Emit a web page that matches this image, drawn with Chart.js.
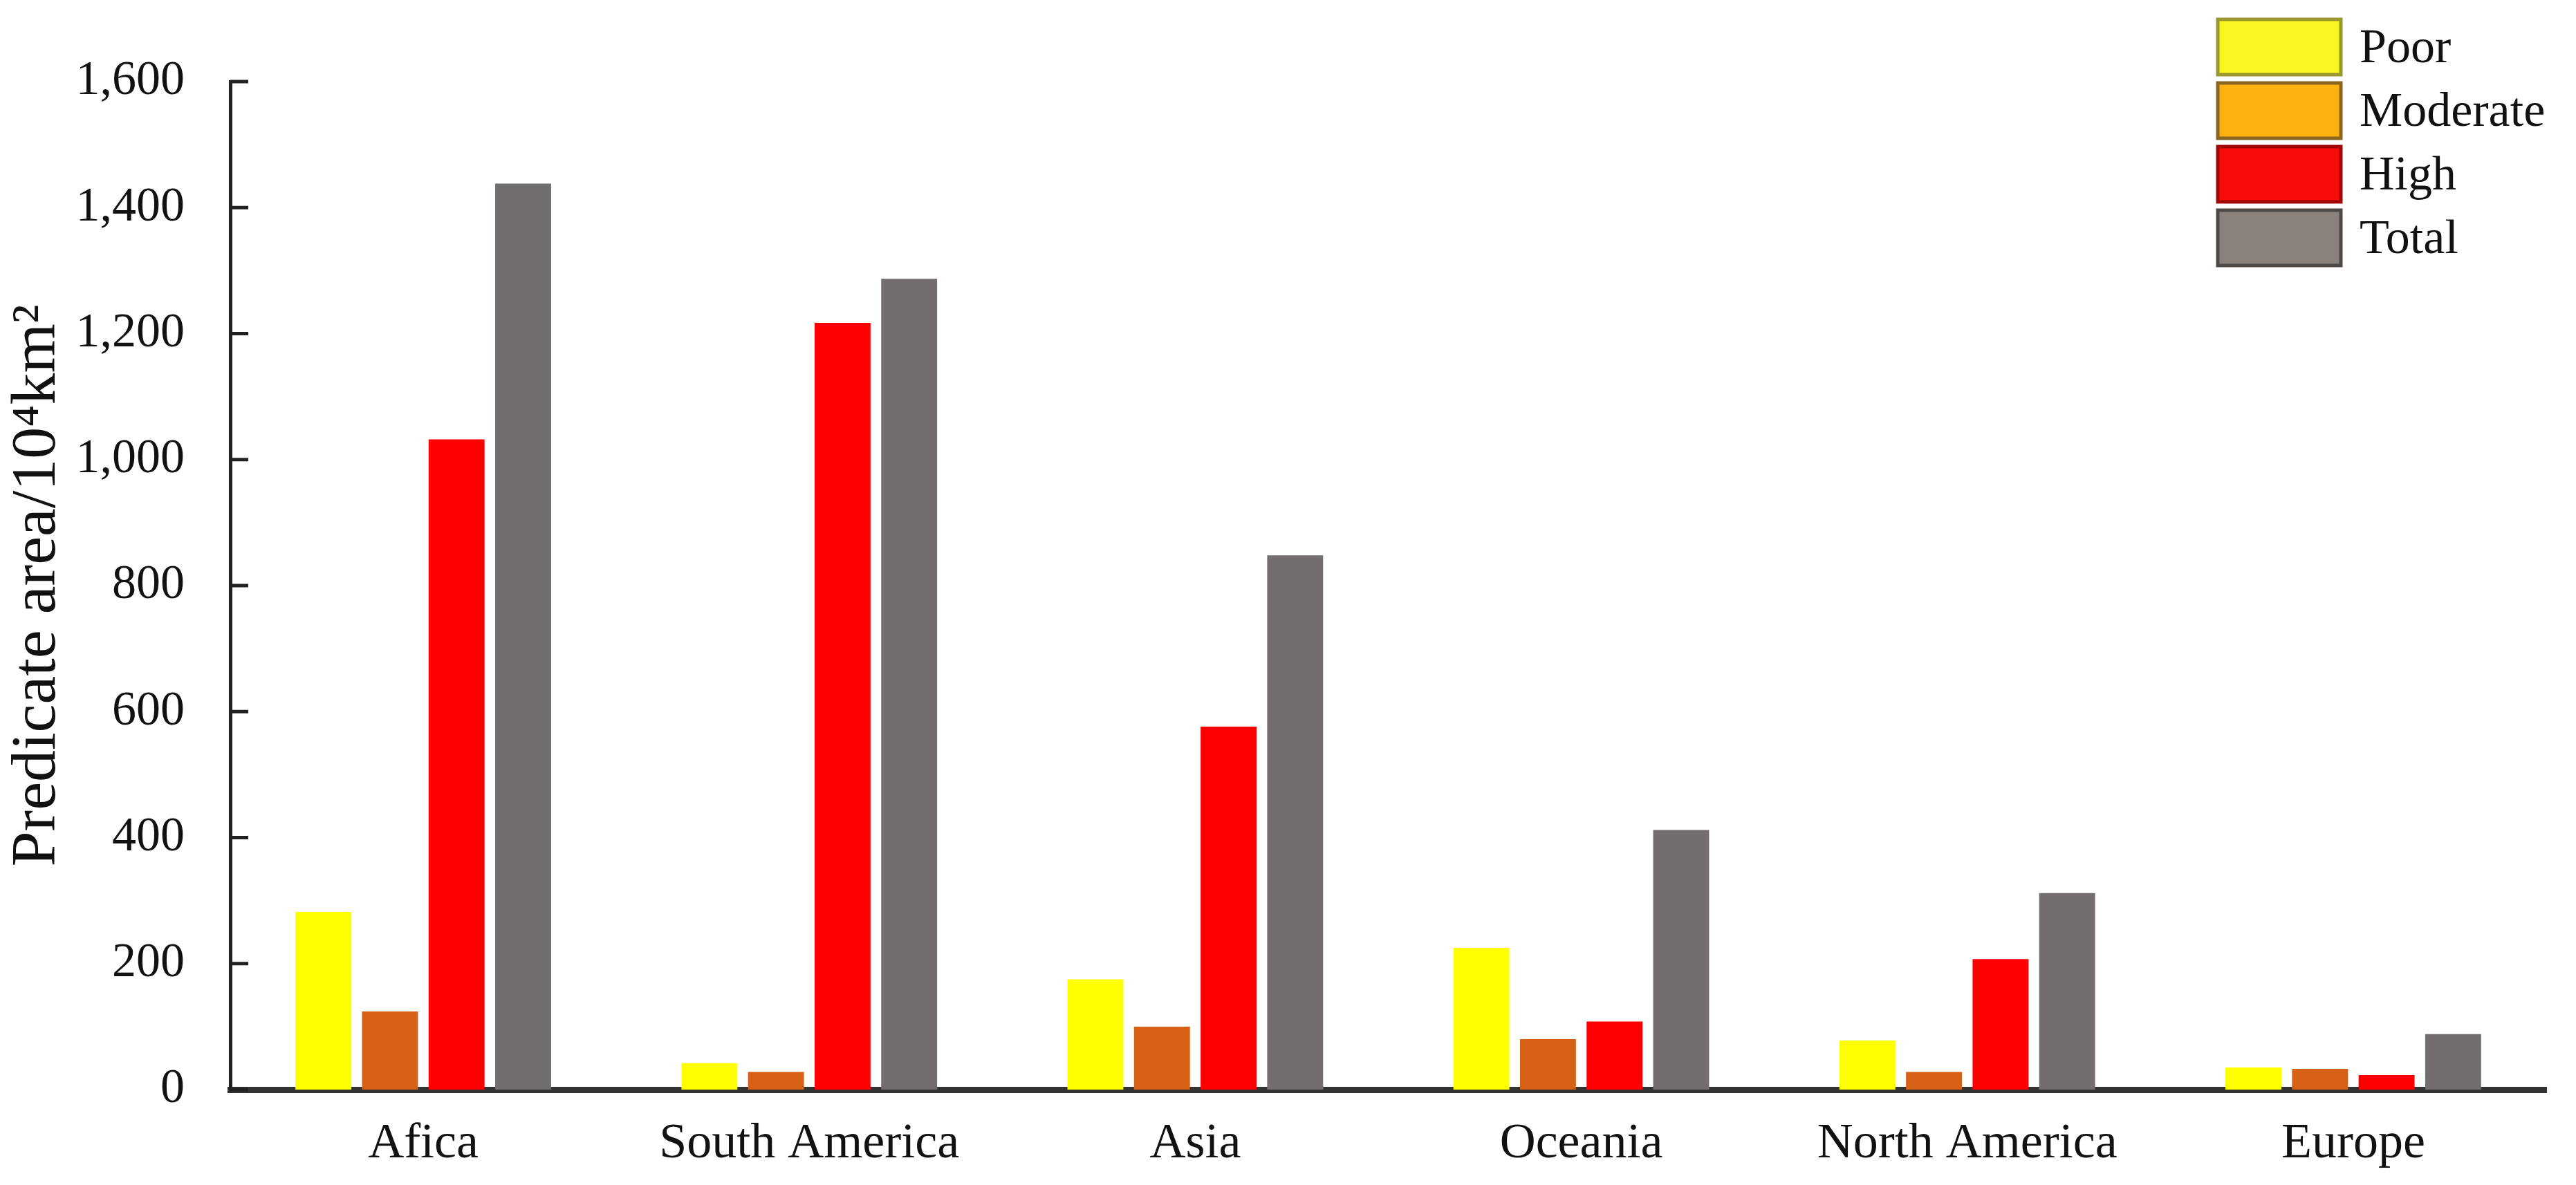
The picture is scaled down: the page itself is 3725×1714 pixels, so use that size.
<!DOCTYPE html>
<html>
<head>
<meta charset="utf-8">
<script src="https://cdn.jsdelivr.net/npm/chart.js@4"></script>
<style>
  html, body { margin: 0; padding: 0; background: #fff; }
  #wrap { width: 3725px; height: 1714px; }
</style>
</head>
<body>
<div id="wrap"><canvas id="chart"></canvas></div>
<script>
// data
const regions = ["Afica", "South America", "Asia", "Oceania", "North America", "Europe"];
const poor = [282, 42, 175, 225, 78, 35];
const moderate = [124, 28, 100, 80, 28, 33];
const high = [1032, 1217, 576, 108, 207, 23];
const total = [1438, 1287, 848, 412, 312, 88];
const yTicks = [0, 200, 400, 600, 800, 1000, 1200, 1400, 1600];

const FONT = "'Liberation Serif', 'DejaVu Serif', serif";

// legend swatch colours differ slightly from the bars in the original
const legendItems = [
  { text: "Poor", fill: "#F8F520", stroke: "#9A9630" },
  { text: "Moderate", fill: "#FBB10E", stroke: "#8A6420" },
  { text: "High", fill: "#F70C0C", stroke: "#A00808" },
  { text: "Total", fill: "#8A817C", stroke: "#4E4946" },
];

// inward tick marks on the y axis plus the custom legend box
const extras = {
  id: "extras",
  afterDraw(chart) {
    const c = chart.ctx;
    const y = chart.scales.y;
    const left = chart.chartArea.left;
    c.save();
    c.strokeStyle = "#222";
    c.lineWidth = 5;
    yTicks.forEach(v => {
      const py = y.getPixelForValue(v);
      c.beginPath();
      c.moveTo(left, py);
      c.lineTo(left + 26, py);
      c.stroke();
    });
    c.font = "70px " + FONT;
    c.textBaseline = "middle";
    legendItems.forEach((it, i) => {
      const top = 28 + i * 92;
      c.fillStyle = it.fill;
      c.fillRect(3207, top, 178, 80);
      c.strokeStyle = it.stroke;
      c.lineWidth = 5;
      c.strokeRect(3207, top, 178, 80);
      c.fillStyle = "#111";
      c.fillText(it.text, 3412, top + 44);
    });
    c.restore();
  }
};

new Chart(document.getElementById("chart"), {
  type: "bar",
  data: {
    labels: regions,
    datasets: [
      { label: "Poor", data: poor, backgroundColor: "#FFFF00" },
      { label: "Moderate", data: moderate, backgroundColor: "#D66015" },
      { label: "High", data: high, backgroundColor: "#FF0000" },
      { label: "Total", data: total, backgroundColor: "#736E6E" },
    ],
  },
  options: {
    responsive: true,
    maintainAspectRatio: false,
    animation: false,
    devicePixelRatio: 1,
    categoryPercentage: 0.69,
    barPercentage: 0.84,
    layout: { padding: { top: 118, right: 43, left: 0, bottom: 0 } },
    plugins: { legend: { display: false }, tooltip: { enabled: false } },
    scales: {
      x: {
        grid: { display: false, drawTicks: false },
        border: { display: true, color: "#333", width: 9 },
        ticks: { color: "#111", font: { family: FONT, size: 72 }, padding: 36 },
        afterFit(s) { s.height = 138; },
      },
      y: {
        min: 0,
        max: 1600,
        afterBuildTicks(s) { s.ticks = yTicks.map(v => ({ value: v })); },
        grid: { display: false, drawTicks: false },
        border: { display: true, color: "#222", width: 5 },
        ticks: { color: "#111", font: { family: FONT, size: 70 }, padding: 66 },
        title: {
          display: true,
          text: "Predicate area/10⁴km²",
          color: "#111",
          font: { family: FONT, size: 92 },
          padding: { top: 0, bottom: 0 },
        },
        afterFit(s) { s.width = 333; },
      },
    },
  },
  plugins: [extras],
});
</script>
</body>
</html>
